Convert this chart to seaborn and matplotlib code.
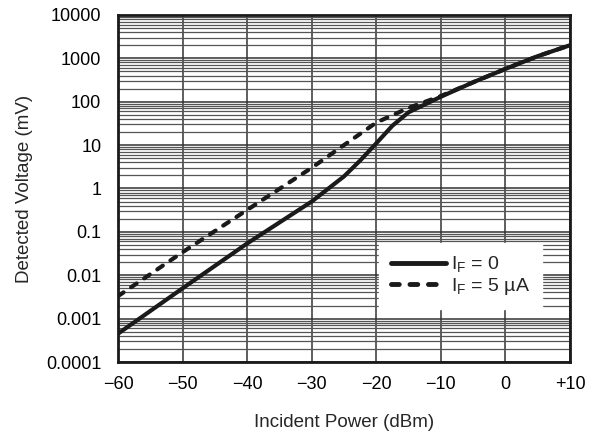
import matplotlib
matplotlib.use("Agg")
import matplotlib.pyplot as plt
import numpy as np
import pandas as pd
import seaborn as sns
from matplotlib.ticker import FixedLocator, LogLocator, NullFormatter

sns.set_theme(style="white")
plt.rcParams["font.family"] = ["Liberation Sans", "DejaVu Sans"]

# Values
power_if0 = [-60, -50, -40, -30, -25, -22.5, -20, -17.5, -15, -10, -5, 0, 5, 10]
volt_if0 = [0.00045, 0.005, 0.054, 0.5, 1.9, 4.4, 11, 28, 57, 130, 280, 570, 1120, 2000]

power_if5 = [-60, -50, -40, -30, -25, -20, -15, -10, -5, 0, 5, 10]
volt_if5 = [0.0033, 0.034, 0.32, 3.0, 10, 33, 72, 135, 280, 570, 1120, 2000]

label_if0 = r"I$_\mathregular{F}$ = 0"
label_if5 = r"I$_\mathregular{F}$ = 5 µA"

x_ticks = [-60, -50, -40, -30, -20, -10, 0, 10]
x_labels = ["\u221260", "\u221250", "\u221240", "\u221230", "\u221220", "\u221210", "0", "+10"]
y_ticks = [1e-4, 1e-3, 1e-2, 1e-1, 1, 10, 100, 1000, 10000]
y_labels = ["0.0001", "0.001", "0.01", "0.1", "1", "10", "100", "1000", "10000"]

df = pd.concat([
    pd.DataFrame({"power": power_if0, "volt": volt_if0, "curve": label_if0}),
    pd.DataFrame({"power": power_if5, "volt": volt_if5, "curve": label_if5}),
])

fig = plt.figure(figsize=(5.97, 4.45), dpi=100)
ax = fig.add_axes([0.1977, 0.1865, 0.7571, 0.7800])

sns.lineplot(
    data=df, x="power", y="volt", hue="curve", style="curve",
    palette=["#1a1a1a", "#1a1a1a"],
    dashes={label_if0: "", label_if5: (1.6, 2.2)},
    linewidth=3.0, ax=ax, sort=False,
)
for line in ax.get_lines():
    line.set_dash_capstyle("round")
    line.set_solid_capstyle("round")

ax.set_yscale("log")
ax.set_xlim(-60, 10)
ax.set_ylim(1e-4, 1e4)

ax.xaxis.set_major_locator(FixedLocator(x_ticks))
ax.set_xticklabels(x_labels)
ax.yaxis.set_major_locator(FixedLocator(y_ticks))
ax.set_yticklabels(y_labels)
ax.yaxis.set_minor_locator(LogLocator(base=10, subs=np.arange(2, 10), numticks=20))
ax.yaxis.set_minor_formatter(NullFormatter())

ax.grid(True, which="major", axis="both", color="#333333", linewidth=1.1)
ax.grid(True, which="minor", axis="y", color="#555555", linewidth=0.9)
ax.set_axisbelow(True)

ax.tick_params(axis="x", which="both", length=0, labelsize=13, colors="black", pad=10)
ax.tick_params(axis="y", which="both", length=0, labelsize=13, colors="black", pad=12)
for side in ax.spines.values():
    side.set_color("#1a1a1a")
    side.set_linewidth(2.0)

ax.set_xlabel("Incident Power (dBm)", fontsize=13.5, labelpad=15)
ax.set_ylabel("Detected Voltage (mV)", fontsize=13.5, labelpad=9)

leg = ax.legend(
    loc="lower right", bbox_to_anchor=(0.96, 0.125), frameon=True,
    fontsize=14, handlelength=2.8, borderpad=0.6, labelspacing=0.05,
    handletextpad=0.3, fancybox=False,
)
leg.get_frame().set_edgecolor("white")
leg.get_frame().set_facecolor("white")
leg.get_frame().set_alpha(1.0)
for line in leg.get_lines():
    line.set_linewidth(3.5)
    line.set_dash_capstyle("round")

fig.savefig("out.png", dpi=100)
